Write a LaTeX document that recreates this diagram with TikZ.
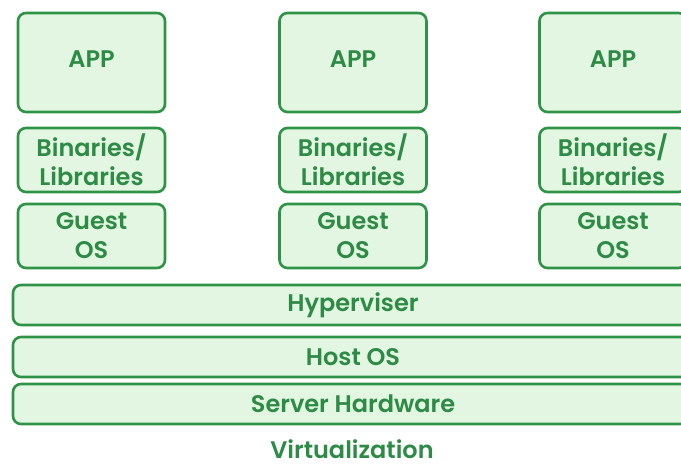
\documentclass[tikz,border=0pt]{standalone}
\usepackage{fontspec}
\setmainfont{Poppins}[BoldFont={Poppins SemiBold}]
\definecolor{edge}{HTML}{2F9347}
\definecolor{fillg}{HTML}{E2F6E2}
\definecolor{ink}{HTML}{2E8B45}
\tikzset{
  labelfont/.style={text=ink, font=\fontsize{24bp}{29bp}\selectfont\bfseries},
  layer/.style={draw=edge, fill=fillg, line width=2.6bp, rounded corners=8bp,
    labelfont, align=center, inner sep=0pt}
}
\begin{document}
\begin{tikzpicture}[x=1bp,y=-1bp]
  \useasboundingbox (0,0) rectangle (681,466);
  \begin{scope}
  \clip (0,0) rectangle (681,466);
  % three guest stacks
  \foreach \c/\x in {a/91.5, b/353, c/613} {
    \node[layer, minimum width=147bp, minimum height=99bp] (app\c) at (\x,62.5) {};
    \node[labelfont] (apptext\c) at (\x,59) {APP};
    \node[layer, minimum width=147bp, minimum height=64bp] (bin\c) at (\x,160) {Binaries/\\Libraries};
    \node[layer, minimum width=147bp, minimum height=64bp] (os\c) at (\x,236) {Guest\\OS};
  }
  % shared layers
  \node[layer, minimum width=680bp, minimum height=40bp] (hyp) at (353,305) {Hyperviser};
  \node[layer, minimum width=680bp, minimum height=40bp] (host) at (353,357) {Host OS};
  \node[layer, minimum width=680bp, minimum height=40bp] (hw) at (353,404) {Server Hardware};
  \end{scope}
  \node[labelfont, anchor=base, inner sep=0pt] (title) at (352,458) {Virtualization};
\end{tikzpicture}
\end{document}
